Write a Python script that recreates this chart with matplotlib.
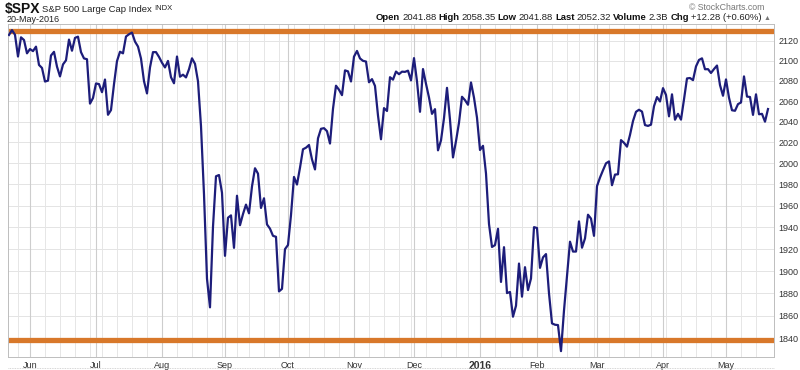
import matplotlib
matplotlib.use('Agg')
import matplotlib.pyplot as plt
from matplotlib.lines import Line2D
import pandas as pd

plt.rcParams['font.family'] = ['Liberation Sans', 'DejaVu Sans']

# trading days (NYSE holidays removed)
holidays = ['2015-05-25', '2015-07-03', '2015-09-07', '2015-11-26', '2015-12-25',
            '2016-01-01', '2016-01-18', '2016-02-15', '2016-03-25']
dates = pd.bdate_range('2015-05-20', '2016-05-20', freq='C', holidays=holidays)

# daily closes
closes = [
    2125.9, 2130.8, 2126.1, 2104.2, 2123.5, 2120.8, 2107.4,
    # Jun
    2111.7, 2109.6, 2114.1, 2095.8, 2092.8, 2079.3, 2080.2, 2105.2, 2108.9, 2094.1,
    2084.4, 2096.3, 2100.4, 2121.2, 2110.0, 2122.9, 2124.2, 2108.6, 2102.3, 2101.5,
    2057.6, 2063.1,
    # Jul
    2077.4, 2076.8, 2068.8, 2081.3, 2046.7, 2051.3, 2076.6, 2099.6, 2109.0, 2107.4,
    2124.3, 2126.6, 2128.3, 2119.2, 2114.2, 2102.2, 2079.7, 2067.6, 2093.3, 2108.6,
    2108.6, 2103.8,
    # Aug
    2098.0, 2093.3, 2099.8, 2083.6, 2077.6, 2104.2, 2084.1, 2086.1, 2083.4, 2091.5,
    2102.4, 2096.9, 2079.6, 2035.7, 1970.9, 1893.2, 1867.6, 1940.5, 1987.7, 1988.9,
    1972.2,
    # Sep
    1913.9, 1948.9, 1951.1, 1921.2, 1969.4, 1942.0, 1952.3, 1961.1, 1953.0, 1978.1,
    1995.3, 1990.2, 1958.0, 1967.0, 1942.7, 1938.8, 1932.2, 1931.3, 1881.8, 1884.1,
    1920.0,
    # Oct
    1923.8, 1951.4, 1987.1, 1979.9, 1995.8, 2013.4, 2014.9, 2017.5, 2003.7, 1994.2,
    2023.9, 2033.1, 2033.7, 2030.8, 2018.9, 2052.5, 2075.2, 2071.2, 2065.9, 2090.4,
    2089.4, 2079.4,
    # Nov
    2104.1, 2109.8, 2102.3, 2099.9, 2099.2, 2078.6, 2081.7, 2075.0, 2046.0, 2023.0,
    2053.2, 2050.4, 2083.6, 2081.2, 2089.2, 2086.6, 2089.1, 2088.9, 2090.1, 2080.4,
    # Dec
    2102.6, 2079.5, 2049.6, 2091.7, 2077.1, 2063.6, 2047.6, 2052.2, 2012.4, 2021.9,
    2043.4, 2073.1, 2041.9, 2005.6, 2021.2, 2039.0, 2064.3, 2061.0, 2056.5, 2078.4,
    2063.4, 2043.9,
    # Jan 2016
    2012.7, 2016.7, 1990.3, 1943.1, 1922.0, 1923.7, 1938.7, 1890.3, 1921.8, 1880.3,
    1881.3, 1859.3, 1869.0, 1906.9, 1877.1, 1903.6, 1883.0, 1893.4, 1940.2,
    # Feb
    1939.4, 1903.0, 1912.5, 1915.5, 1880.1, 1853.4, 1852.2, 1851.9, 1829.1, 1864.8,
    1895.6, 1926.8, 1917.8, 1917.8, 1945.5, 1921.3, 1929.8, 1951.7, 1948.1, 1932.2,
    # Mar
    1978.4, 1986.5, 1993.4, 2000.0, 2001.8, 1979.3, 1989.3, 1989.6, 2022.2, 2019.6,
    2015.9, 2027.2, 2040.6, 2049.6, 2051.6, 2049.8, 2036.7, 2035.9, 2037.1, 2055.0,
    2064.0, 2059.7,
    # Apr
    2072.8, 2066.1, 2045.2, 2066.7, 2041.9, 2047.6, 2042.0, 2061.7, 2082.4, 2082.8,
    2080.7, 2094.3, 2100.8, 2102.4, 2091.5, 2091.6, 2087.8, 2091.7, 2095.2, 2075.8,
    2065.3,
    # May
    2081.4, 2063.4, 2051.1, 2050.6, 2057.1, 2058.7, 2084.4, 2064.5, 2064.1, 2046.6,
    2066.7, 2047.2, 2047.6, 2040.0, 2052.3,
]

month_labels = ['Jun', 'Jul', 'Aug', 'Sep', 'Oct', 'Nov', 'Dec', '2016', 'Feb', 'Mar', 'Apr', 'May']
y_ticks = [1840, 1860, 1880, 1900, 1920, 1940, 1960, 1980, 2000, 2020, 2040, 2060, 2080, 2100, 2120]
resistance = 2130
support = 1839

n = len(closes)
x = list(range(n))

month_idx = [i for i in range(1, n) if dates[i].month != dates[i - 1].month]
week_idx = [i for i in range(1, n) if dates[i].weekday() < dates[i - 1].weekday()]

fig = plt.figure(figsize=(8, 3.7), dpi=100)
ax = fig.add_axes([8 / 800, 13 / 370, 766 / 800, 333 / 370])

ax.set_yscale('log')
ax.set_ylim(1824, 2137)
ax.set_xlim(-0.33, n + 1)

# grid
for yv in y_ticks:
    ax.axhline(yv, color='#e4e4e4', lw=0.7, zorder=0)
for i in week_idx:
    ax.axvline(i, color='#e6e6e6', lw=0.7, zorder=0)
for i in month_idx:
    ax.axvline(i, color='#cdcdcd', lw=0.8, zorder=0)

ax.axhline(resistance, color='#d8782a', lw=3.8, zorder=2)
ax.axhline(support, color='#d8782a', lw=3.8, zorder=2)
ax.plot(x, closes, color='#1d1d7a', lw=1.6, zorder=3, solid_joinstyle='round')

ax.yaxis.tick_right()
ax.set_yticks(y_ticks)
ax.set_yticklabels([str(v) for v in y_ticks])
ax.yaxis.set_minor_locator(plt.NullLocator())
ax.tick_params(axis='y', length=0, pad=3, labelsize=6.5, labelcolor='#333333')

ax.set_xticks(month_idx)
ax.set_xticklabels(month_labels)
ax.tick_params(axis='x', length=0, pad=3, labelsize=6.5, labelcolor='#333333')
for lbl in ax.get_xticklabels():
    if lbl.get_text() == '2016':
        lbl.set_fontweight('bold')
        lbl.set_fontsize(7.5)

for s in ax.spines.values():
    s.set_color('#bdbdbd')
    s.set_linewidth(0.7)

fig.add_artist(Line2D([8 / 800, 774 / 800], [1 - 368 / 370] * 2, color='#c8c8c8',
                      lw=0.6, ls=(0, (1, 1)), transform=fig.transFigure))

# header
renderer = fig.canvas.get_renderer()


def put_row(pieces, x0, y0):
    xp = x0
    for txt, kw in pieces:
        t = fig.text(xp / 800, 1 - y0 / 370, txt, va='center', ha='left', **kw)
        bb = t.get_window_extent(renderer)
        xp += bb.width + 2


put_row([(r'\$SPX', dict(fontsize=10, fontweight='bold', color='#111111')),
         ('S&P 500 Large Cap Index', dict(fontsize=6.8, color='#222222')),
         ('INDX', dict(fontsize=5.5, color='#222222'))], 5, 9)
fig.text(7 / 800, 1 - 19.5 / 370, '20-May-2016', fontsize=6.5, color='#222222', va='center')

bold = dict(fontsize=6.8, fontweight='bold', color='#111111')
reg = dict(fontsize=6.8, color='#222222')
put_row([('Open', bold), ('2041.88', reg), ('High', bold), ('2058.35', reg),
         ('Low', bold), ('2041.88', reg), ('Last', bold), ('2052.32', reg),
         ('Volume', bold), ('2.3B', reg), ('Chg', bold), ('+12.28 (+0.60%)', reg),
         ('\u25b2', dict(fontsize=5, color='#777777'))], 376, 18)
fig.text(764 / 800, 1 - 7 / 370, '\u00a9 StockCharts.com', fontsize=6.3, color='#777777',
         va='center', ha='right')

fig.savefig('out.png', dpi=100)
